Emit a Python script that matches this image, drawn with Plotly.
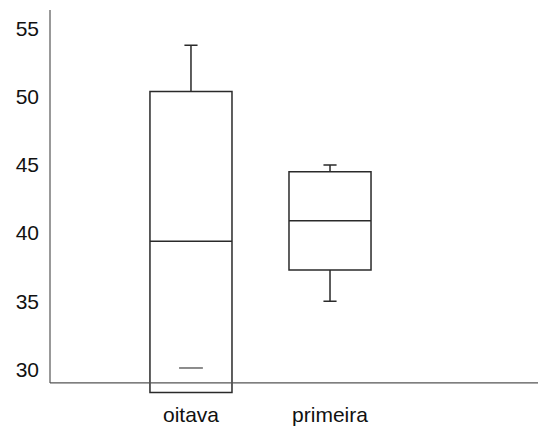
import plotly.graph_objects as go

categories = ["oitava", "primeira"]
q1 = [28.3, 37.3]
median = [39.4, 40.9]
q3 = [50.4, 44.5]
lowerfence = [28.3, 35.0]
upperfence = [53.8, 45.0]
outlier_x = ["oitava"]
outlier_y = [30.1]
y_ticks = [30, 35, 40, 45, 50, 55]

y_min, y_max = 27.75, 56.38
x_axis_at = 29.0

fig = go.Figure()
for i, c in enumerate(categories):
    fig.add_trace(go.Box(
        x=[c], q1=[q1[i]], median=[median[i]], q3=[q3[i]],
        lowerfence=[lowerfence[i]], upperfence=[upperfence[i]],
        name=c, width=0.59, whiskerwidth=0.16,
        line=dict(color="#2a2a2a", width=1.5),
        fillcolor="rgba(0,0,0,0)", boxpoints=False, showlegend=False,
    ))

fig.add_trace(go.Scatter(
    x=outlier_x, y=outlier_y, mode="markers",
    marker=dict(symbol="line-ew", size=17, line=dict(color="#666666", width=1.5)),
    showlegend=False, hoverinfo="y",
))

fig.add_shape(type="line", xref="paper", x0=0, x1=1, yref="y", y0=x_axis_at, y1=x_axis_at,
              line=dict(color="#555555", width=1.2), layer="above")
fig.add_shape(type="line", xref="paper", x0=0, x1=0, yref="y", y0=x_axis_at, y1=y_max,
              line=dict(color="#555555", width=1.2), layer="above")

fig.update_layout(
    width=538, height=428,
    margin=dict(l=50, r=0, t=10, b=28),
    paper_bgcolor="white", plot_bgcolor="white",
    font=dict(family="Liberation Sans, Arial, sans-serif", size=21, color="#111111"),
    boxmode="overlay",
    xaxis=dict(type="category", range=[-1.014, 2.496], showgrid=False, showline=False,
               zeroline=False, ticks="", tickfont=dict(size=21), automargin=False),
    yaxis=dict(range=[y_min, y_max], tickvals=y_ticks, showgrid=False, showline=False,
               zeroline=False, ticks="", ticklabelstandoff=10, tickfont=dict(size=21),
               automargin=False),
)

fig.write_html(
    "out.html",
    config={"displayModeBar": False},
    post_script="document.body.style.margin='0';document.body.style.overflow='hidden';",
)
